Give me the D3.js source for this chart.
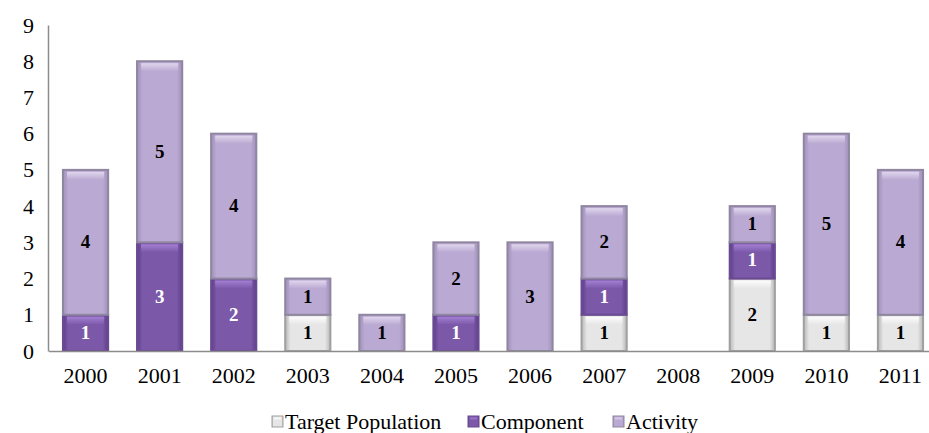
<!DOCTYPE html>
<html><head><meta charset="utf-8">
<script src="https://cdn.jsdelivr.net/npm/d3@7"></script>
</head><body style="margin:0;background:#fff"><svg id="c" width="929" height="433" style="display:block"></svg>
<script>
const years = ["2000","2001","2002","2003","2004","2005","2006","2007","2008","2009","2010","2011"];
const targetPopulation = [0,0,0,1,0,0,0,1,0,2,1,1];
const component = [1,3,2,0,0,1,0,1,0,1,0,0];
const activity = [4,5,4,1,1,2,3,2,0,1,5,4];
const seriesNames = ["Target Population","Component","Activity"];
const yTicks = [0,1,2,3,4,5,6,7,8,9];
const FONT = "Liberation Serif";

const svg = d3.select("#c");
const x = d3.scaleBand().domain(years).range([48.5, 937.5]).paddingInner(0.39).paddingOuter(0.195);
const y = d3.scaleLinear().domain([0,9]).range([351,25]);

const defs = svg.append("defs");
const cols = {
  "Target Population": {base:"#e6e6e6", edge:"#b8b8b8", hi:"#ffffff", stroke:"#a0a0a0", text:"#000"},
  "Component": {base:"#7b58a8", edge:"#5e3f8a", hi:"#a884d8", stroke:"#6a4a92", text:"#fff"},
  "Activity": {base:"#baa9d2", edge:"#a090bb", hi:"#e4dbf0", stroke:"#8f86a0", text:"#000"}
};
seriesNames.forEach((s,i)=>{
  const c = cols[s];
  const gh = defs.append("linearGradient").attr("id","h"+i).attr("x1",0).attr("x2",1).attr("y1",0).attr("y2",0);
  gh.append("stop").attr("offset",0).attr("stop-color",c.edge);
  gh.append("stop").attr("offset",0.12).attr("stop-color",c.base);
  gh.append("stop").attr("offset",0.88).attr("stop-color",c.base);
  gh.append("stop").attr("offset",1).attr("stop-color",c.edge);
  const gv = defs.append("linearGradient").attr("id","v"+i).attr("x1",0).attr("x2",0).attr("y1",0).attr("y2",1);
  gv.append("stop").attr("offset",0).attr("stop-color",c.hi).attr("stop-opacity",0.9);
  gv.append("stop").attr("offset",1).attr("stop-color",c.hi).attr("stop-opacity",0);
});

const yAxis = svg.append("g").attr("transform","translate(48,0)").call(d3.axisLeft(y).tickValues(yTicks).tickSize(0).tickPadding(14));
yAxis.attr("font-family",FONT).attr("font-size",22);
yAxis.select(".domain").attr("stroke","#8c8c8c").attr("stroke-width",1.5);
yAxis.selectAll("text").attr("font-family",FONT).attr("font-size",22).attr("fill","#000");

const data = years.map((yr,i)=>({year:yr, "Target Population":targetPopulation[i], "Component":component[i], "Activity":activity[i]}));
const stack = d3.stack().keys(seriesNames)(data);

stack.forEach((layer,i)=>{
  const c = cols[layer.key];
  const g = svg.append("g");
  layer.forEach(d=>{
    if(d[1]-d[0] <= 0) return;
    const bx = x(d.data.year), bw = x.bandwidth();
    const y0 = y(d[0]), y1 = y(d[1]);
    g.append("rect").attr("x",bx).attr("y",y1).attr("width",bw).attr("height",y0-y1)
      .attr("fill",`url(#h${i})`).attr("stroke",c.stroke).attr("stroke-width",2);
    g.append("rect").attr("x",bx+4).attr("y",y1+2).attr("width",bw-8).attr("height",Math.min(8,(y0-y1)/3))
      .attr("fill",`url(#v${i})`);
    g.append("text").attr("x",bx+bw/2).attr("y",(y0+y1)/2+6).attr("text-anchor","middle")
      .attr("font-family",FONT).attr("font-size",19).attr("font-weight","bold").attr("fill",c.text).text(d[1]-d[0]);
  });
});

const xAxis = svg.append("g").attr("transform","translate(0,351)").call(d3.axisBottom(x).tickSize(0).tickPadding(16));
xAxis.attr("font-family",FONT).attr("font-size",22);
xAxis.select(".domain").attr("stroke","#8c8c8c").attr("stroke-width",1.5);
xAxis.selectAll("text").attr("font-family",FONT).attr("font-size",22).attr("fill","#000");

const legX = [272, 468, 613];
seriesNames.forEach((s,i)=>{
  const c = cols[s];
  const lg = svg.append("g").attr("transform",`translate(${legX[i]},416)`);
  lg.append("rect").attr("x",0).attr("y",0).attr("width",11).attr("height",11).attr("fill",`url(#h${i})`).attr("stroke",c.stroke).attr("stroke-width",1);
  lg.append("rect").attr("x",2).attr("y",1.5).attr("width",7).attr("height",3).attr("fill",`url(#v${i})`);
  lg.append("text").attr("x",13).attr("y",12.5).attr("font-family",FONT).attr("font-size",22).attr("fill","#000").text(s);
});
</script></body></html>
